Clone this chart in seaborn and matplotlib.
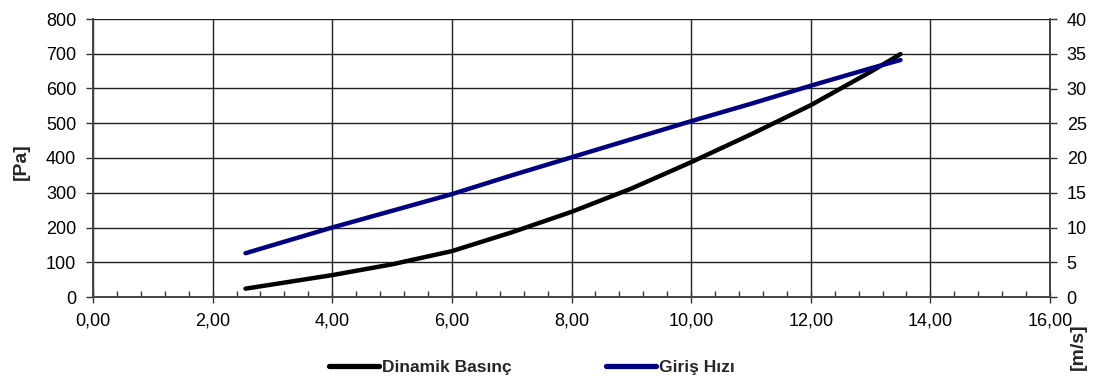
import matplotlib
matplotlib.use("Agg")
import matplotlib.pyplot as plt
import seaborn as sns
import pandas as pd
import numpy as np
from matplotlib.ticker import MultipleLocator

# ---- data ----
x_vals = [2.55, 4.0, 5.0, 6.0, 7.0, 8.0, 9.0, 10.0, 11.0, 12.0, 13.0, 13.5]
dinamik_basinc = [24, 63, 94, 132, 186, 245, 312, 388, 468, 552, 648, 699]   # Pa
giris_hizi = [6.3, 10.0, 12.4, 14.8, 17.5, 20.1, 22.7, 25.3, 27.8, 30.4, 32.9, 34.1]  # m/s

x_ticks = [0, 2, 4, 6, 8, 10, 12, 14, 16]
x_tick_labels = ["0,00", "2,00", "4,00", "6,00", "8,00", "10,00", "12,00", "14,00", "16,00"]
y_left_ticks = [0, 100, 200, 300, 400, 500, 600, 700, 800]
y_right_ticks = [0, 5, 10, 15, 20, 25, 30, 35, 40]

label_p = "Dinamik Basınç"
label_v = "Giriş Hızı"

df = pd.DataFrame({"x": x_vals, "p": dinamik_basinc, "v": giris_hizi})

sns.set_theme(style="white")
plt.rcParams["font.family"] = ["Liberation Sans", "DejaVu Sans"]

fig = plt.figure(figsize=(10.94, 3.83), dpi=100)
ax = fig.add_axes([93/1094, 1-297/383, (1050-93)/1094, (297-19)/383])
ax2 = ax.twinx()

sns.lineplot(data=df, x="x", y="p", ax=ax, color="black", lw=3.2, label=label_p, legend=False)
sns.lineplot(data=df, x="x", y="v", ax=ax2, color="#000080", lw=3.2, label=label_v, legend=False)

ax.set_xlim(0, 16)
ax.set_ylim(0, 800)
ax2.set_ylim(0, 40)
ax.set_xticks(x_ticks)
ax.set_xticklabels(x_tick_labels)
ax.set_yticks(y_left_ticks)
ax.set_yticklabels([str(v) for v in y_left_ticks])
ax2.set_yticks(y_right_ticks)
ax2.set_yticklabels([str(v) for v in y_right_ticks])
ax.xaxis.set_minor_locator(MultipleLocator(0.4))

ax.set_xlabel("")
ax.set_ylabel("")
ax2.set_ylabel("")

ax.grid(True, which="major", axis="both", color="#202020", lw=1.0)
ax.set_axisbelow(True)

tick_color = "#333333"
fs = 13
ax.tick_params(axis="x", which="major", direction="inout", length=9, width=1, color=tick_color,
               labelsize=fs, pad=7, bottom=True, labelcolor="black")
ax.tick_params(axis="x", which="minor", direction="in", length=4, width=1, color=tick_color, bottom=True)
ax.tick_params(axis="y", which="major", direction="out", length=5, width=1, color=tick_color,
               labelsize=fs, pad=7, left=True, labelcolor="black")
ax2.tick_params(axis="y", which="major", direction="out", length=5, width=1, color=tick_color,
                labelsize=fs, pad=7, right=True, labelcolor="black")

for a in (ax, ax2):
    for s in a.spines.values():
        s.set_color("#444444")
        s.set_linewidth(1.2)
    a.spines["top"].set_visible(False)

fig.text(21/1094, 1-162/383, "[Pa]", rotation=90, ha="center", va="center",
         fontsize=14, fontweight="bold")
fig.text(1078/1094, 1-347/383, "[m/s]", rotation=90, ha="center", va="center",
         fontsize=14, fontweight="bold")

h1, l1 = ax.get_legend_handles_labels()
h2, l2 = ax2.get_legend_handles_labels()
leg = fig.legend(h1 + h2, l1 + l2, loc="center", bbox_to_anchor=(532/1094, 1-367/383),
                 ncol=2, frameon=False, handlelength=2.9, handletextpad=0.17,
                 columnspacing=5.4, prop={"size": 12.5, "weight": "bold"})
for ln in leg.get_lines():
    ln.set_linewidth(3.8)

fig.savefig("out.png", dpi=100)
